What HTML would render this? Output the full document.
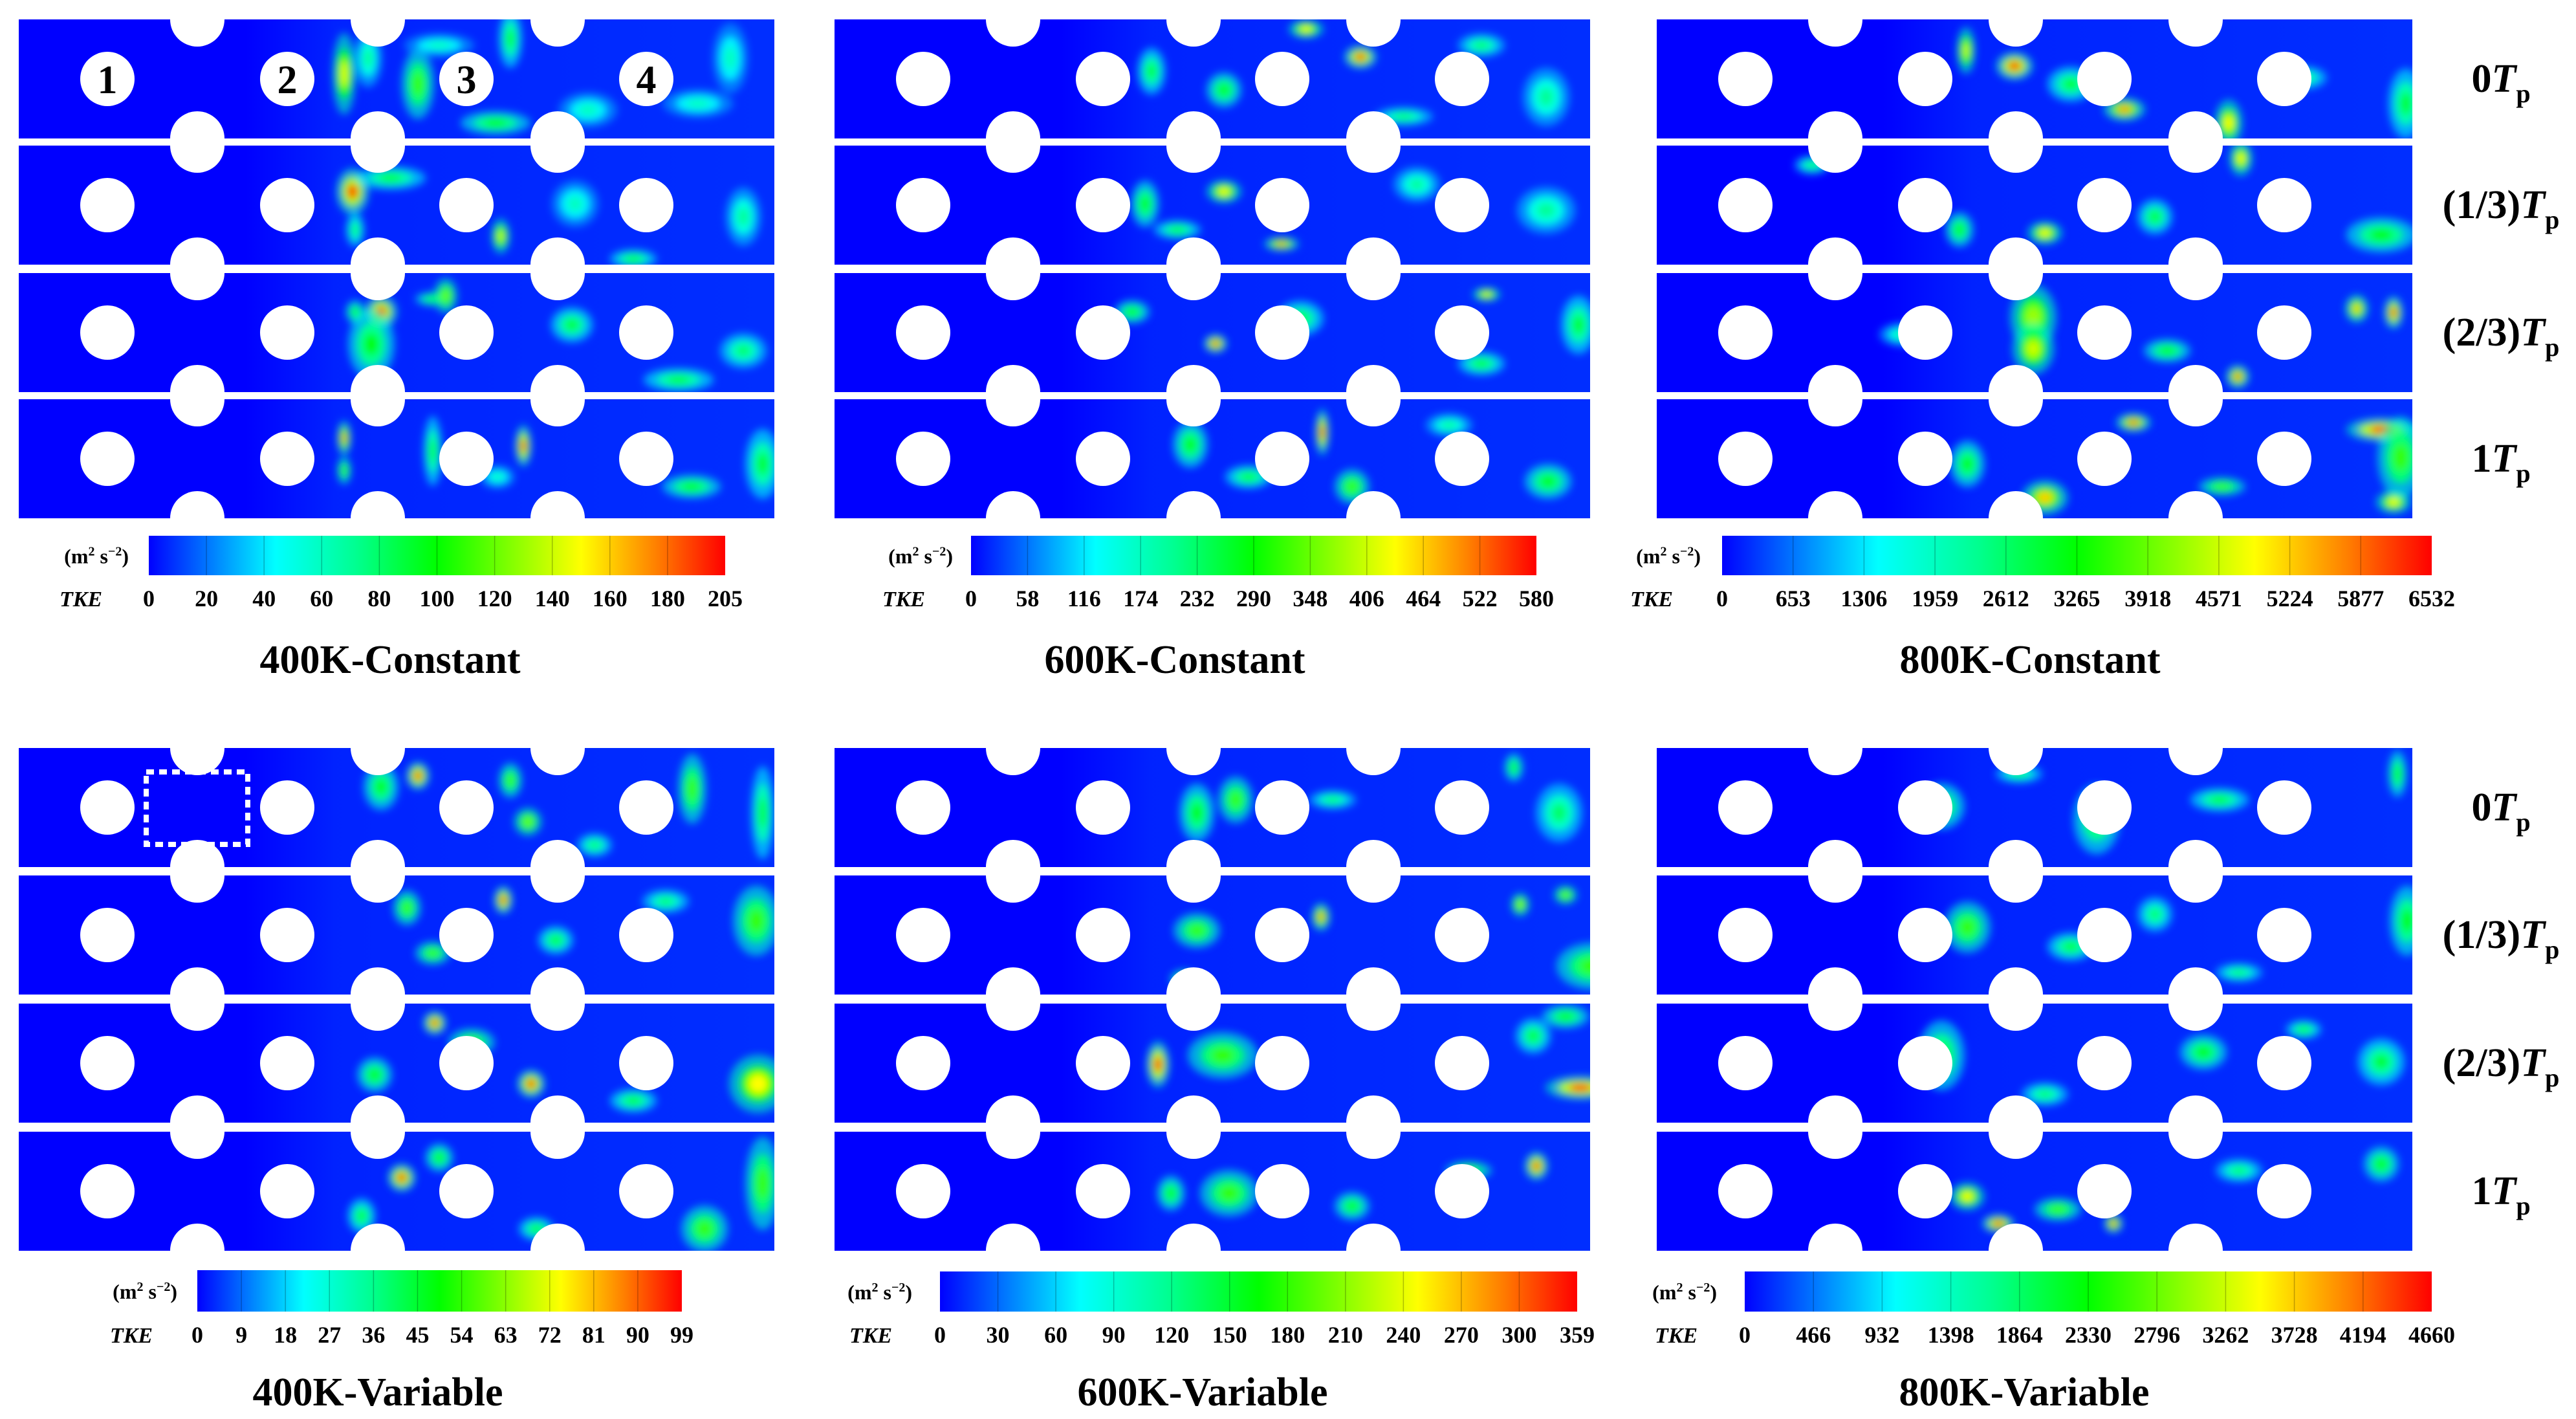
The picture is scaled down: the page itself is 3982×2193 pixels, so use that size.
<!DOCTYPE html>
<html><head><meta charset="utf-8"><style>
html,body{margin:0;padding:0;background:#fff;}
svg{display:block;}
text{font-family:"Liberation Serif",serif;font-weight:bold;fill:#000;}
</style></head><body>
<svg id="fig" xmlns="http://www.w3.org/2000/svg" width="3982" height="2193" viewBox="0 0 3982 2193">
<defs>
<filter id="blur" x="-50%" y="-50%" width="200%" height="200%"><feGaussianBlur stdDeviation="6"/></filter>
<linearGradient id="jet" x1="0" x2="1" y1="0" y2="0">
<stop offset="0" stop-color="#0000ff"/><stop offset="0.11" stop-color="#0080ff"/><stop offset="0.22" stop-color="#00ffff"/><stop offset="0.36" stop-color="#00ff90"/><stop offset="0.5" stop-color="#00ff00"/><stop offset="0.75" stop-color="#ffff00"/><stop offset="0.88" stop-color="#ff8000"/><stop offset="1" stop-color="#ff0000"/>
</linearGradient>
<linearGradient id="haze" x1="0" x2="1" y1="0" y2="0">
<stop offset="0" stop-color="#00c0ff" stop-opacity="0"/><stop offset="0.3" stop-color="#00c0ff" stop-opacity="0"/><stop offset="0.42" stop-color="#00c0ff" stop-opacity="0.18"/><stop offset="1" stop-color="#00c0ff" stop-opacity="0.24"/>
</linearGradient>
</defs>
</svg>
<script>
// ---- data ----
const panelTitles = ["400K-Constant","600K-Constant","800K-Constant","400K-Variable","600K-Variable","800K-Variable"];
const phaseLabels = ["0","(1/3)","(2/3)","1"];
const tick400C = ["0","20","40","60","80","100","120","140","160","180","205"];
const tick600C = ["0","58","116","174","232","290","348","406","464","522","580"];
const tick800C = ["0","653","1306","1959","2612","3265","3918","4571","5224","5877","6532"];
const tick400V = ["0","9","18","27","36","45","54","63","72","81","90","99"];
const tick600V = ["0","30","60","90","120","150","180","210","240","270","300","359"];
const tick800V = ["0","466","932","1398","1864","2330","2796","3262","3728","4194","4660"];
// hot spots: [x, y, rx, ry, level 0..1] in strip-local coords
const spots400C = [
 [[503,84,10,35,.72],[540,60,12,25,.35],[617,100,14,30,.55],[737,160,30,10,.5],[760,30,10,25,.45],[880,140,25,15,.3],[1050,130,30,12,.3],[1100,60,15,30,.3],[650,40,30,10,.3]],
 [[516,71,14,20,.95],[575,50,30,10,.45],[520,130,8,15,.4],[745,140,8,15,.7],[950,175,20,8,.45],[1120,110,15,25,.35],[860,90,20,20,.3]],
 [[560,60,14,14,.95],[545,110,20,30,.5],[520,60,8,10,.5],[640,40,15,6,.5],[855,80,18,15,.45],[1020,165,30,10,.45],[1120,120,20,15,.4],[660,35,10,15,.6]],
 [[503,60,6,15,.85],[780,72,7,18,.95],[503,110,6,12,.55],[640,80,8,30,.45],[1040,135,25,10,.5],[1150,100,15,30,.45],[740,120,15,10,.3]]];
const spots600C = [
 [[813,58,14,10,.95],[729,15,15,8,.75],[602,109,15,15,.5],[490,80,12,20,.45],[1000,40,20,10,.4],[1100,120,20,25,.35],[880,150,25,8,.4]],
 [[602,71,15,10,.75],[691,152,15,6,.85],[480,90,12,20,.5],[530,130,20,8,.45],[900,60,20,15,.35],[1100,100,25,20,.35]],
 [[589,109,10,8,.95],[1008,33,12,6,.75],[460,60,15,10,.5],[720,70,20,15,.45],[1000,140,20,10,.45],[1150,80,15,25,.45]],
 [[754,51,6,20,.95],[550,70,15,20,.5],[800,135,15,15,.55],[1103,127,20,15,.5],[640,120,20,10,.45],[950,40,20,10,.35]]];
const spots800C = [
 [[553,72,16,12,.97],[723,139,18,10,.85],[478,48,8,20,.7],[884,160,12,20,.75],[1158,130,15,30,.45],[640,100,20,15,.45],[1000,90,20,10,.4]],
 [[600,135,15,10,.75],[903,20,10,15,.75],[1120,138,30,15,.5],[468,130,12,15,.5],[770,110,15,15,.45],[240,30,15,8,.4]],
 [[582,68,20,28,.65],[582,117,18,22,.7],[1139,61,8,14,.95],[1082,55,10,12,.8],[898,160,10,10,.9],[789,120,20,10,.5],[380,95,20,10,.35]],
 [[1120,47,30,10,.97],[600,152,20,15,.8],[737,36,15,8,.9],[1139,159,15,10,.75],[874,135,20,8,.55],[1150,90,20,35,.55],[480,100,15,20,.5]]];
const spots400V = [
 [[617,43,10,12,.95],[560,60,15,20,.5],[787,114,12,12,.6],[1041,63,12,30,.55],[1150,100,10,40,.45],[760,50,10,15,.55],[890,150,15,10,.4]],
 [[749,38,8,12,.95],[600,50,12,15,.55],[640,120,15,10,.55],[1140,70,20,30,.55],[1000,40,20,10,.4],[830,100,15,12,.45]],
 [[643,30,10,10,.95],[792,124,12,12,.95],[1143,124,25,25,.75],[700,60,20,12,.55],[550,110,15,15,.5],[950,150,20,10,.45]],
 [[592,71,12,12,.95],[650,40,12,12,.5],[1060,150,20,20,.55],[1150,80,15,40,.55],[800,150,15,10,.45],[530,130,12,15,.45]]];
const spots600V = [
 [[560,100,15,25,.5],[620,80,15,20,.55],[770,80,20,8,.4],[1120,100,20,25,.4],[1050,30,8,12,.5]],
 [[752,64,8,12,.85],[560,85,20,15,.55],[540,160,12,8,.55],[1170,140,30,20,.55],[1060,45,8,10,.65],[1130,30,10,8,.6]],
 [[500,94,10,20,.97],[1153,130,30,10,.97],[600,80,30,20,.55],[1130,20,20,10,.5],[1080,50,15,15,.45]],
 [[1085,53,10,12,.95],[610,95,25,20,.55],[520,95,12,15,.5],[800,115,15,12,.5],[980,60,20,8,.55]]];
const spots800V = [
 [[440,90,20,20,.5],[680,110,20,30,.5],[1145,40,8,20,.5],[870,80,25,10,.45],[560,40,20,8,.4]],
 [[480,80,20,22,.55],[1160,70,15,30,.5],[640,110,20,12,.45],[900,150,20,8,.4],[770,60,15,15,.4]],
 [[440,80,20,30,.5],[845,75,20,15,.5],[1120,90,20,20,.45],[600,140,20,10,.4],[1000,40,15,8,.45]],
 [[528,142,14,8,.95],[706,142,8,8,.9],[480,100,15,12,.75],[1120,50,15,15,.5],[620,120,20,10,.55],[900,60,20,10,.4]]];

const spotSets = [spots400C,spots600C,spots800C,spots400V,spots600V,spots800V];
const tickSets = [tick400C,tick600C,tick800C,tick400V,tick600V,tick800V];

// ---- layout ----
const NS="http://www.w3.org/2000/svg";
const svg=document.getElementById('fig');
function mk(tag,attrs,parent){const e=document.createElementNS(NS,tag);for(const k in attrs)e.setAttribute(k,attrs[k]);(parent||svg).appendChild(e);return e;}
const colLeft=[29,1290,2561];
const PW=1168, SH=184;
const stripTops=[[30,225,422,617],[1156,1353,1551,1749]];
const holeX=[137,415,692,970], cutX=[276,555,833], R=42;
const bars=[[230,1121,828,889],[1501,2375,828,889],[2662,3759,828,889],[305,1054,1963,2027],[1453,2438,1965,2027],[2697,3759,1965,2027]];
const titleX=[603,1816,3138,584,1859,3129];
const titleY=[1040,1040,1040,2172,2172,2172];
const unitX=[199,1473,2629,274,1410,2654];
const tkeX=[125,1397,2553,203,1346,2591];

const jetStops=[[0,[0,0,255]],[.11,[0,128,255]],[.22,[0,255,255]],[.36,[0,255,144]],[.5,[0,255,0]],[.75,[255,255,0]],[.88,[255,128,0]],[1,[255,0,0]]];
function jet(t){for(let i=1;i<jetStops.length;i++){if(t<=jetStops[i][0]){const a=jetStops[i-1],b=jetStops[i];const f=(t-a[0])/(b[0]-a[0]);const c=a[1].map((v,j)=>Math.round(v+(b[1][j]-v)*f));return `rgb(${c[0]},${c[1]},${c[2]})`;}}return 'rgb(255,0,0)';}

let clipId=0;
for(let p=0;p<6;p++){
  const col=p%3, row=Math.floor(p/3);
  const px=colLeft[col];
  const panel=mk('g',{});
  
  
  for(let s=0;s<4;s++){
    const y0=stripTops[row][s];
    const cid='c'+(clipId++);
    const cp=mk('clipPath',{id:cid},panel);mk('rect',{x:px,y:y0,width:PW,height:SH},cp);
    const g=mk('g',{'clip-path':`url(#${cid})`},panel);
    
    
    mk('rect',{x:px,y:y0,width:PW,height:SH,fill:'#0000ff'},g);
    mk('rect',{x:px,y:y0,width:PW,height:SH,fill:'url(#haze)'},g);
    const bg=mk('g',{filter:'url(#blur)'},g);
    spotSets[p][s].forEach(d=>{
      const h=mk('ellipse',{cx:px+d[0],cy:y0+d[1],rx:d[2]*1.8,ry:d[3]*1.8,fill:jet(Math.min(d[4]*0.5,0.3)),opacity:0.6},bg);
      
      
      const e=mk('ellipse',{cx:px+d[0],cy:y0+d[1],rx:d[2]*1.15,ry:d[3]*1.15,fill:jet(d[4]*0.7)},bg);
      
      
      const c=mk('ellipse',{cx:px+d[0],cy:y0+d[1],rx:d[2]*0.6,ry:d[3]*0.6,fill:jet(d[4])},bg);
      
      
    });
    holeX.forEach((hx,i)=>{const c=mk('circle',{cx:px+hx,cy:y0+SH/2,r:R,fill:'#fff'},g);
      
      });
    cutX.forEach(hx=>{mk('circle',{cx:px+hx,cy:y0,r:R,fill:'#fff'},g);mk('circle',{cx:px+hx,cy:y0+SH,r:R,fill:'#fff'},g);});
    if(p===0&&s===0){holeX.forEach((hx,i)=>{const t=mk('text',{x:px+hx,y:y0+SH/2+22,'text-anchor':'middle','font-size':62},g);t.textContent=String(i+1);
      
      });}
    if(p===3&&s===0){const b=mk('rect',{x:px+197,y:y0+37,width:157,height:112,fill:'none',stroke:'#fff','stroke-width':8,'stroke-dasharray':'12 8'},g);
      
      }
    if(col===2){
      const t=mk('text',{x:3866,y:y0+SH/2+20,'text-anchor':'middle','font-size':62});
      
      
      t.innerHTML=phaseLabels[s]+'<tspan font-style="italic">T</tspan><tspan font-size="40" dy="16">p</tspan>';
    }
  }
  const [bx0,bx1,by0,by1]=bars[p];
  const cb=mk('g',{});
  
  
  mk('rect',{x:bx0,y:by0,width:bx1-bx0,height:by1-by0,fill:'url(#jet)'},cb);
  const ticks=tickSets[p], n=ticks.length;
  for(let i=0;i<n;i++){
    const x=bx0+(bx1-bx0)*i/(n-1);
    if(i>0&&i<n-1) mk('line',{x1:x,x2:x,y1:by0,y2:by1,stroke:'#000','stroke-opacity':0.25,'stroke-width':1.5},cb);
    const t=mk('text',{x:x,y:by1+48,'text-anchor':'middle','font-size':36},cb);
    t.textContent=ticks[i];
    
    
  }
  const u=mk('text',{x:unitX[p],y:(by0+by1)/2+12,'text-anchor':'end','font-size':32},cb);
  u.innerHTML='(m<tspan font-size="20" dy="-12">2</tspan><tspan dy="12"> s</tspan><tspan font-size="20" dy="-12">−2</tspan><tspan dy="12">)</tspan>';
  
  
  const k=mk('text',{x:tkeX[p],y:by1+48,'text-anchor':'middle','font-size':34,'font-style':'italic'},cb);
  k.textContent='TKE';
  
  
  const tt=mk('text',{x:titleX[p],y:titleY[p],'text-anchor':'middle','font-size':62});
  tt.textContent=panelTitles[p];
  
  
}
</script>
</body></html>
